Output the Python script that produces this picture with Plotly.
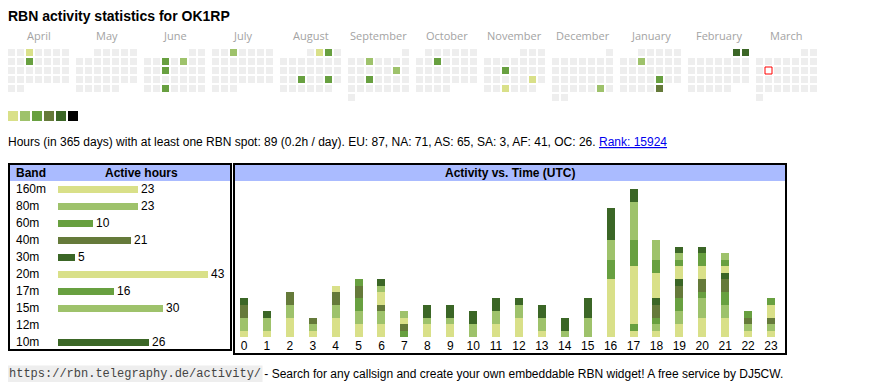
import plotly.graph_objects as go
import pandas as pd

# page body has an 8px margin; figure sized so page is exactly 870x390
OFF = 8
W, H = 870 - 2 * OFF, 390 - 2 * OFF
SANS = "Liberation Sans, Arial, sans-serif"

# ---------------- data ----------------
title_text = "RBN activity statistics for OK1RP"
months = ["April", "May", "June", "July", "August", "September", "October",
          "November", "December", "January", "February", "March"]
cal_first_day = "2024-04-01"
cal_last_day = "2025-03-31"
today = "2025-03-11"
active_days = ["2024-04-03", "2024-04-10", "2024-06-05", "2024-06-07", "2024-06-12",
               "2024-06-26", "2024-07-03", "2024-08-02", "2024-08-03", "2024-08-21",
               "2024-08-24", "2024-09-04", "2024-09-14", "2024-09-18", "2024-10-09",
               "2024-11-13", "2024-11-23", "2024-11-27", "2024-12-28", "2025-01-08",
               "2025-01-24", "2025-01-31", "2025-02-01", "2025-02-02"]
active_levels = [0, 2, 2, 1, 2, 2, 1, 0, 2, 2, 2, 1, 1, 2, 2, 2, 0, 0, 1, 1, 2, 3, 4, 4]
legend_levels = [0, 1, 2, 3, 4, 5]

stats_text = ("Hours (in 365 days) with at least one RBN spot: 89 (0.2h / day). "
              "EU: 87, NA: 71, AS: 65, SA: 3, AF: 41, OC: 26. ")
rank_text = "Rank: 15924"

bands = ["160m", "80m", "60m", "40m", "30m", "20m", "17m", "15m", "12m", "10m"]
band_hours = [23, 23, 10, 21, 5, 43, 16, 30, 0, 26]
band_levels = [0, 1, 2, 3, 4, 0, 2, 1, 3, 4]

hours = list(range(24))
hourly = {
    "160m": [1, 1, 3, 1, 3, 2, 2, 0, 0, 0, 0, 0, 0, 0, 0, 0, 0, 1, 1, 2, 3, 3, 1, 1],
    "80m":  [2, 2, 2, 1, 2, 2, 2, 0, 0, 0, 0, 0, 0, 0, 0, 0, 0, 0, 1, 2, 3, 2, 1, 1],
    "60m":  [0, 0, 0, 0, 0, 2, 0, 1, 0, 0, 0, 0, 0, 0, 0, 0, 0, 1, 1, 2, 1, 2, 0, 0],
    "40m":  [2, 0, 2, 1, 2, 2, 1, 1, 0, 0, 0, 0, 0, 0, 0, 0, 0, 0, 2, 2, 2, 2, 1, 1],
    "30m":  [1, 1, 0, 0, 0, 0, 0, 0, 0, 0, 0, 0, 0, 0, 0, 0, 0, 0, 1, 1, 0, 1, 0, 0],
    "20m":  [0, 0, 0, 0, 1, 0, 2, 1, 2, 2, 0, 2, 3, 1, 0, 0, 9, 9, 4, 2, 2, 1, 0, 2],
    "17m":  [0, 0, 0, 0, 0, 1, 0, 0, 0, 0, 0, 0, 0, 0, 0, 0, 3, 4, 2, 1, 2, 1, 1, 1],
    "15m":  [0, 0, 0, 0, 0, 0, 1, 1, 1, 1, 2, 2, 2, 2, 1, 3, 3, 6, 3, 1, 0, 1, 0, 0],
    "12m":  [0] * 24,
    "10m":  [0, 0, 0, 0, 0, 0, 1, 0, 2, 2, 2, 2, 1, 2, 2, 3, 5, 2, 0, 1, 1, 0, 0, 0],
}

footer_url = "https://rbn.telegraphy.de/activity/"
footer_text = " - Search for any callsign and create your own embeddable RBN widget! A free service by DJ5CW."

# ---------------- styles ----------------
palette = ["#d9e089", "#9ec26b", "#68a040", "#657a3a", "#3b6626", "#000000"]
empty_color = "#eeeeee"
header_color = "#aabbff"


def px(x):  # page pixel -> paper x
    return (x - OFF) / W


def py(y):  # page pixel -> paper y
    return 1 - (y - OFF) / H


# ---------------- calendar geometry ----------------
start = pd.Timestamp(cal_first_day)
days = pd.date_range(cal_first_day, cal_last_day, freq="D")
level_of = {pd.Timestamp(d): l for d, l in zip(active_days, active_levels)}


def cell_xy(d):
    m = (d.year - start.year) * 12 + d.month - start.month
    first_wd = d.replace(day=1).weekday()
    row = (d.day - 1 + first_wd) // 7
    return 11.5 + 68 * m + 9 * d.weekday(), 52.5 + 9 * row


cx, cy, cc = [], [], []
for d in days:
    x, y = cell_xy(d)
    cx.append(x)
    cy.append(y)
    cc.append(palette[level_of[d]] if d in level_of else empty_color)

tx, ty = cell_xy(pd.Timestamp(today))

fig = go.Figure()

fig.add_trace(go.Scatter(
    x=cx, y=cy, mode="markers", xaxis="x", yaxis="y",
    marker=dict(symbol="square", size=7, color=cc, line=dict(width=0)),
    hoverinfo="skip", showlegend=False))
fig.add_trace(go.Scatter(
    x=[tx], y=[ty], mode="markers", xaxis="x", yaxis="y",
    marker=dict(symbol="square", size=7, color="white", line=dict(width=1, color="#ff0000")),
    hoverinfo="skip", showlegend=False))

# legend squares
fig.add_trace(go.Scatter(
    x=legend_levels, y=[0] * len(legend_levels), mode="markers", xaxis="x2", yaxis="y2",
    marker=dict(symbol="square", size=10, color=[palette[l] for l in legend_levels], line=dict(width=0)),
    hoverinfo="skip", showlegend=False))

# band bars
fig.add_trace(go.Bar(
    x=band_hours, y=bands, orientation="h", xaxis="x3", yaxis="y3",
    width=0.41, marker=dict(color=[palette[l] for l in band_levels], line=dict(width=0)),
    text=[str(v) if v else "" for v in band_hours], textposition="outside",
    constraintext="none", cliponaxis=False,
    textfont=dict(family=SANS, size=12, color="black"),
    hoverinfo="skip", showlegend=False))

# hourly stacked bars
for b, l in zip(bands, band_levels):
    fig.add_trace(go.Bar(
        x=hours, y=hourly[b], xaxis="x4", yaxis="y4", width=0.35,
        marker=dict(color=palette[l], line=dict(width=0)),
        hoverinfo="skip", showlegend=False, name=b))

hidden = dict(visible=False, fixedrange=True)
u_h = 22.913
u_v = 6.435
fig.update_layout(
    width=W, height=H, autosize=False,
    margin=dict(l=0, r=0, t=0, b=0),
    paper_bgcolor="white", plot_bgcolor="rgba(0,0,0,0)",
    barmode="stack", bargap=0,
    xaxis=dict(domain=[0, 1], range=[OFF, OFF + W], **hidden),
    yaxis=dict(domain=[0, 1], range=[OFF + H, OFF], **hidden),
    xaxis2=dict(domain=[px(8), px(80)], range=[-5 / 12, 67 / 12], anchor="y2", **hidden),
    yaxis2=dict(domain=[py(121), py(111)], range=[-0.5, 0.5], anchor="x2", **hidden),
    xaxis3=dict(domain=[px(58), px(230)], range=[0, 172 / 3.488], anchor="y3", **hidden),
    yaxis3=dict(domain=[py(350.8), py(180.8)], range=[9.5, -0.5], type="category",
                categoryorder="array", categoryarray=bands, anchor="x3", **hidden),
    xaxis4=dict(domain=[px(236), px(784)], range=[(236 - 244) / u_h, (784 - 244) / u_h],
                anchor="y4", tickmode="array", tickvals=hours, ticktext=[str(h) for h in hours],
                showgrid=False, zeroline=False, showline=False, ticks="",
                tickfont=dict(family=SANS, size=12, color="black"), fixedrange=True),
    yaxis4=dict(domain=[py(337), py(182)], range=[0, 155 / u_v], anchor="x4", **hidden),
)

shapes = [
    dict(type="rect", xref="paper", yref="paper", x0=px(10), x1=px(230), y0=py(181), y1=py(165),
         fillcolor=header_color, line=dict(width=0), layer="below"),
    dict(type="rect", xref="paper", yref="paper", x0=px(235), x1=px(785), y0=py(181), y1=py(165),
         fillcolor=header_color, line=dict(width=0), layer="below"),
    dict(type="rect", xref="paper", yref="paper", x0=px(9), x1=px(231), y0=py(350), y1=py(164),
         line=dict(width=2, color="black")),
    dict(type="rect", xref="paper", yref="paper", x0=px(234), x1=px(786), y0=py(354), y1=py(164),
         line=dict(width=2, color="black")),
]
fig.update_layout(shapes=shapes)

PAD = 2  # annotation box padding
ann = []
ann.append(dict(text="<b>" + title_text + "</b>", xref="paper", yref="paper", x=px(8 - PAD), y=py(16),
                xanchor="left", yanchor="middle", showarrow=False,
                font=dict(family=SANS, size=14, color="black")))
for i, mname in enumerate(months):
    ann.append(dict(text=mname, xref="x", yref="y", x=8 + 68 * i + 30.5, y=35,
                    xanchor="center", yanchor="middle", showarrow=False,
                    font=dict(family="Open Sans, sans-serif", size=11, color="#a3a3a3")))
ann.append(dict(text=stats_text + "<span style='color:#0000ee;text-decoration:underline'>" + rank_text + "</span>",
                xref="paper", yref="paper", x=px(8 - PAD), y=py(142), xanchor="left", yanchor="middle",
                showarrow=False, font=dict(family=SANS, size=12, color="black")))
ann.append(dict(text="<b>Band</b>", xref="paper", yref="paper", x=px(16 - PAD), y=py(173),
                xanchor="left", yanchor="middle", showarrow=False,
                font=dict(family=SANS, size=12, color="black")))
ann.append(dict(text="<b>Active hours</b>", xref="paper", yref="paper", x=px(141.5), y=py(173),
                xanchor="center", yanchor="middle", showarrow=False,
                font=dict(family=SANS, size=12, color="black")))
ann.append(dict(text="<b>Activity vs. Time (UTC)</b>", xref="paper", yref="paper", x=px(510), y=py(173),
                xanchor="center", yanchor="middle", showarrow=False,
                font=dict(family=SANS, size=12, color="black")))
for b in bands:
    ann.append(dict(text=b, xref="paper", yref="y3", x=px(16 - PAD), y=b, xanchor="left", yanchor="middle",
                    showarrow=False, font=dict(family=SANS, size=12, color="black")))
ann.append(dict(text=footer_url, xref="paper", yref="paper", x=px(7), y=py(374), xanchor="left",
                yanchor="middle", showarrow=False, bgcolor="#eeeeee", borderpad=1,
                font=dict(family="Liberation Mono, Courier New, monospace", size=12, color="#444444")))
ann.append(dict(text=footer_text, xref="paper", yref="paper", x=px(261 - PAD), y=py(374), xanchor="left",
                yanchor="middle", showarrow=False,
                font=dict(family=SANS, size=12, color="black")))
fig.update_layout(annotations=ann)

fig.write_html("out.html", config=dict(displayModeBar=False))
